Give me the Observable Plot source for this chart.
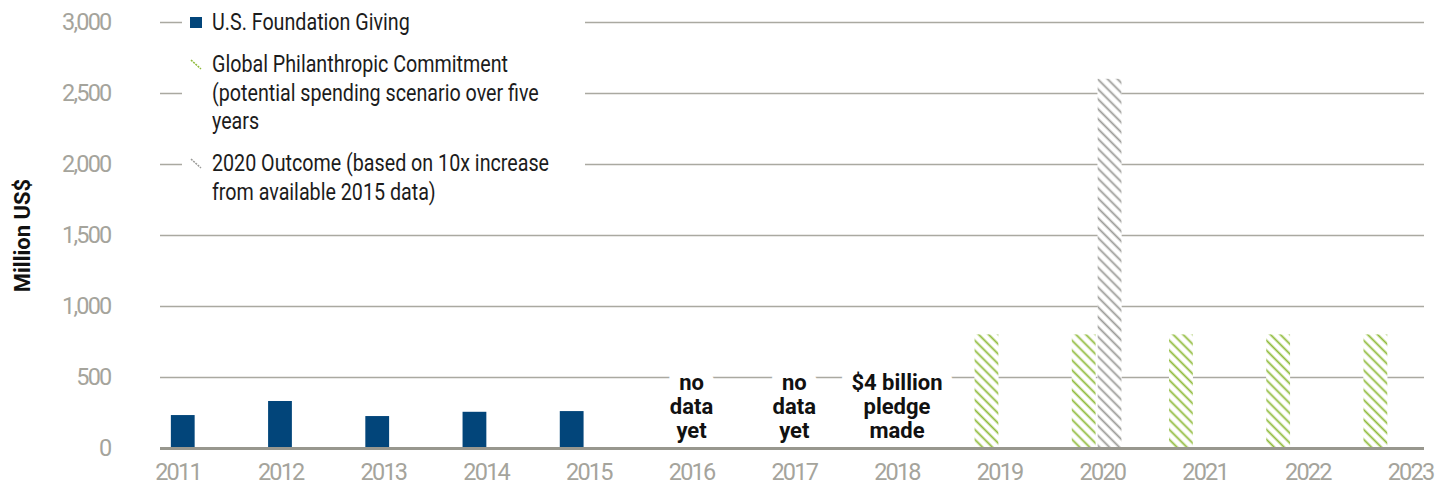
<!DOCTYPE html>
<html>
<head>
<meta charset="utf-8">
<script src="https://cdn.jsdelivr.net/npm/d3@7"></script>
<script src="https://cdn.jsdelivr.net/npm/@observablehq/plot@0.6"></script>
<style>
  html, body { margin: 0; padding: 0; background: #fff; }
  #wrap { position: relative; width: 1447px; height: 491px; overflow: hidden;
          font-family: "Roboto", sans-serif; }
  #wrap > svg { position: absolute; left: 0; top: 0; }
  #wrap svg [aria-label$="tick label"] text { letter-spacing: -1.8px; }
  #legend { position: absolute; left: 182px; top: 0; width: 403px; height: 214px;
            background: #fff; padding-top: 8px; box-sizing: border-box;
            color: #1c1c1c; font-size: 24px; }
  .item { position: relative; padding-left: 30px; line-height: 28.5px;
          margin-bottom: 13.5px; white-space: nowrap; }
  .item span { display: inline-block; transform: scaleX(0.82); transform-origin: 0 0; }
  .icon { position: absolute; left: 8px; top: 8.5px; width: 12px; height: 11px; }
</style>
</head>
<body>
<div id="wrap"></div>
<script>
// ---------- data ----------
const years = [2011, 2012, 2013, 2014, 2015, 2016, 2017, 2018, 2019, 2020, 2021, 2022, 2023];
const seriesNames = ["U.S. Foundation Giving", "Global Philanthropic Commitment", "2020 Outcome"];
const usFoundationGiving   = [232, 331, 225, 255, 260, null, null, null, null, null, null, null, null];
const globalCommitment     = [null, null, null, null, null, null, null, null, 800, 800, 800, 800, 800];
const outcome2020          = [null, null, null, null, null, null, null, null, null, 2600, null, null, null];
const yTicks = [0, 500, 1000, 1500, 2000, 2500, 3000];
const noteYears = [2016, 2017, 2018];
const noteTexts = ["no\ndata\nyet", "no\ndata\nyet", "$4 billion\npledge\nmade"];
const yTitle = "Million US$";
const legendLabels = [
  "U.S. Foundation Giving",
  "Global Philanthropic Commitment<br>(potential spending scenario over five<br>years",
  "2020 Outcome (based on 10x increase<br>from available 2015 data)"
];
const seriesColors = ["#02457a", "#8fbb3a", "#9b9b98"];

// ---------- build table ----------
const rows = [];
[usFoundationGiving, globalCommitment, outcome2020].forEach((vals, s) =>
  vals.forEach((v, i) => { if (v != null) rows.push({year: years[i], series: seriesNames[s], value: v}); })
);

const W = 1447, H = 491;
const margins = {marginTop: 22, marginBottom: 43, marginLeft: 160, marginRight: 23};
const font = '"Roboto", sans-serif';
const yDomain = [0, 3000];

// ---------- layer 1: grid, axes, title, notes ----------
const base = Plot.plot({
  width: W, height: H, ...margins,
  style: {background: "transparent", fontFamily: font, fontSize: "23.5px", color: "#a5a49c"},
  x: {type: "point", domain: years, range: [177.5, 1410], padding: 0, round: false,
      tickSize: 0, tickPadding: 15, tickFormat: d => String(d), label: null},
  y: {domain: yDomain, ticks: yTicks, tickFormat: d3.format(",.0f"), tickSize: 0, tickPadding: 50, label: null},
  marks: [
    Plot.ruleY(yTicks.filter(d => d > 0), {stroke: "#aaa9a1", strokeWidth: 1.5}),
    Plot.text(noteTexts, {
      x: (d, i) => noteYears[i], text: d => d,
      frameAnchor: "bottom", lineAnchor: "bottom", dy: -11, lineHeight: 1.09,
      fontSize: 22, fontWeight: "bold", fill: "white",
      stroke: "white", strokeWidth: 22
    }),
    Plot.text(noteTexts, {
      x: (d, i) => noteYears[i], text: d => d,
      frameAnchor: "bottom", lineAnchor: "bottom", dy: -11, lineHeight: 1.09,
      fontSize: 22, fontWeight: "bold", fill: "#111"
    }),
    Plot.text([yTitle], {
      frameAnchor: "left", textAnchor: "middle", rotate: -90, dx: -138,
      fontSize: 22, fontWeight: "bold", fill: "#111"
    })
  ]
});

// ---------- layer 2: bars (faceted by year, series within) ----------
const bars = Plot.plot({
  width: W, height: H, ...margins,
  style: {background: "transparent", fontFamily: font},
  fx: {domain: years, padding: 0, round: false, axis: null},
  x: {domain: seriesNames, paddingInner: 0.08, paddingOuter: 0.42, round: false, axis: null},
  y: {domain: yDomain, axis: null},
  color: {domain: seriesNames, range: [seriesColors[0], "url(#hatchGreen)", "url(#hatchGray)"]},
  marks: [
    Plot.barY(rows, {fx: "year", x: "series", y: "value", fill: "white"}),
    Plot.barY(rows, {fx: "year", x: "series", y: "value", fill: "series"})
  ]
});
const defs = d3.select(bars).insert("defs", ":first-child");
function hatch(id, color) {
  const p = defs.append("pattern").attr("id", id)
    .attr("patternUnits", "userSpaceOnUse").attr("width", 7).attr("height", 7)
    .attr("patternTransform", "rotate(-45)");
  p.append("rect").attr("width", 7).attr("height", 7).attr("fill", "white");
  p.append("line").attr("x1", 3.5).attr("x2", 3.5).attr("y1", 0).attr("y2", 7)
    .attr("stroke", color).attr("stroke-width", 1.8);
}
hatch("hatchGreen", seriesColors[1]);
hatch("hatchGray", seriesColors[2]);

// ---------- layer 3: baseline ----------
const baseline = Plot.plot({
  width: W, height: H, ...margins,
  style: {background: "transparent"},
  x: {axis: null}, y: {domain: yDomain, axis: null},
  marks: [Plot.ruleY([0], {stroke: "#98978e", strokeWidth: 3})]
});

// ---------- assemble + legend ----------
const wrap = document.getElementById("wrap");
wrap.appendChild(base);
wrap.appendChild(bars);
wrap.appendChild(baseline);
const legend = document.createElement("div");
legend.id = "legend";
const icons = [
  `<div class="icon" style="background:${seriesColors[0]}"></div>`,
  `<svg class="icon" viewBox="0 0 12 11"><line x1="1" y1="1" x2="11" y2="10" stroke="${seriesColors[1]}" stroke-width="1.5" stroke-dasharray="2 1"/></svg>`,
  `<svg class="icon" viewBox="0 0 12 11"><line x1="1" y1="1" x2="11" y2="10" stroke="${seriesColors[2]}" stroke-width="1.5" stroke-dasharray="2 1"/></svg>`
];
legend.innerHTML = legendLabels.map((t, i) => `<div class="item">${icons[i]}<span>${t}</span></div>`).join("");
wrap.appendChild(legend);
</script>
</body>
</html>
